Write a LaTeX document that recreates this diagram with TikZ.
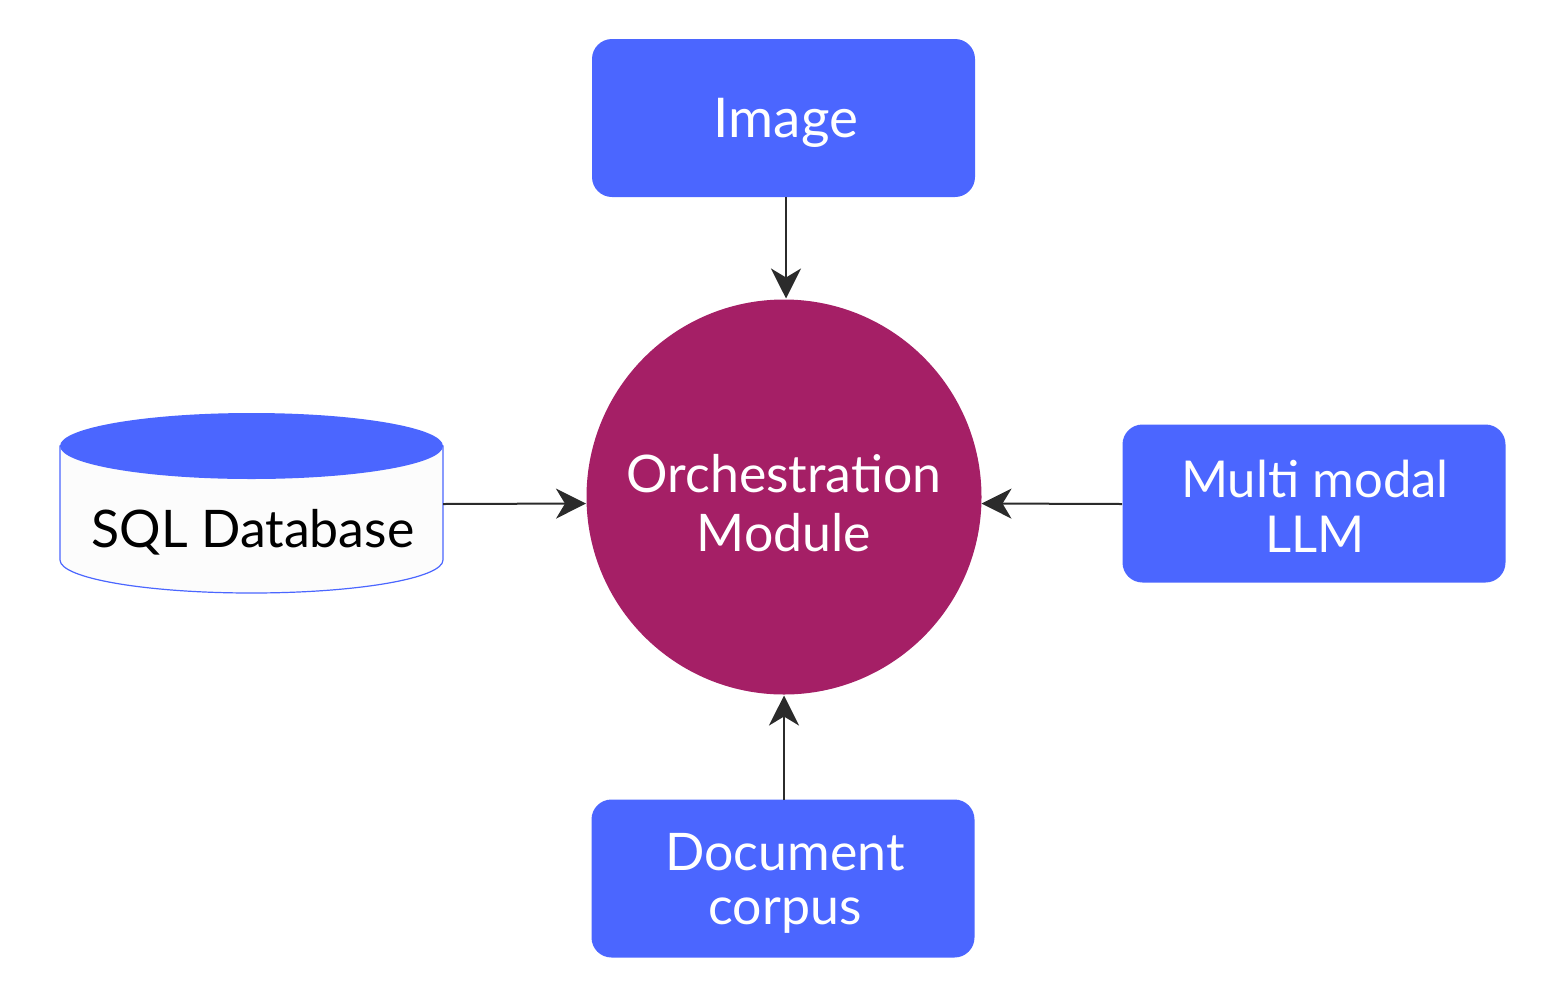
\documentclass[tikz,border=0pt]{standalone}
\usepackage{fontspec}
\setmainfont{Lato}
\usetikzlibrary{arrows.meta}
\definecolor{boxblue}{HTML}{4B66FF}
\definecolor{orchred}{HTML}{A51F66}
\definecolor{arrowgray}{HTML}{2B2B2B}
\definecolor{dbwhite}{HTML}{FCFCFC}
\tikzset{
  bluebox/.style={draw=none, fill=boxblue, rounded corners=20bp, minimum width=383bp, minimum height=158bp, inner sep=0pt, text=white, align=center},
  boxtext/.style={inner sep=0pt, text=white, align=center},
  conn/.style={draw=arrowgray, line width=2bp, -{Stealth[length=30bp,width=30bp,inset=9bp]}}
}
\begin{document}
\begin{tikzpicture}[x=1bp,y=-1bp]
\useasboundingbox (0,0) rectangle (1567,1004);
\node[bluebox] (img) at (783.5,118) {};
\node[boxtext, font=\fontsize{55}{60}\selectfont] (imgt) at (786,123) {Image};
\node[bluebox] (llm) at (1314,503.5) {};
\node[boxtext, font=\fontsize{51}{55}\selectfont] (llmt) at (1315,506) {Multi modal\\LLM};
\node[bluebox] (doc) at (783,878.5) {};
\node[boxtext, font=\fontsize{52}{54}\selectfont] (doct) at (785,883) {Document\\corpus};
\node[circle, fill=orchred, minimum size=395bp, inner sep=0pt] (orch) at (784,497) {};
\node[boxtext, font=\fontsize{52}{59}\selectfont] (orcht) at (784,503) {Orchestration\\Module};
% cylinder
\draw[draw=boxblue, line width=1.2bp, fill=dbwhite] (60,446) -- (60,560) arc[start angle=180, end angle=360, x radius=191.5, y radius=-33] -- (443,446) -- cycle;
\fill[boxblue] (251.5,446) ellipse[x radius=191.5, y radius=33];
\node[inner sep=0pt, font=\fontsize{52}{56}\selectfont] (sql) at (253,532) {SQL Database};
\coordinate (sqlr) at (443,504);
\coordinate (imgb) at (786,197);
\coordinate (docb) at (784,800);
\coordinate (llml) at (1122,504);
\draw[conn] (imgb) -- (786,298.5);
\draw[conn] (docb) -- (784,695.5);
\draw[conn] (sqlr) -- (586,503.5);
\draw[conn] (llml) -- (981.5,503.5);
\end{tikzpicture}
\end{document}
